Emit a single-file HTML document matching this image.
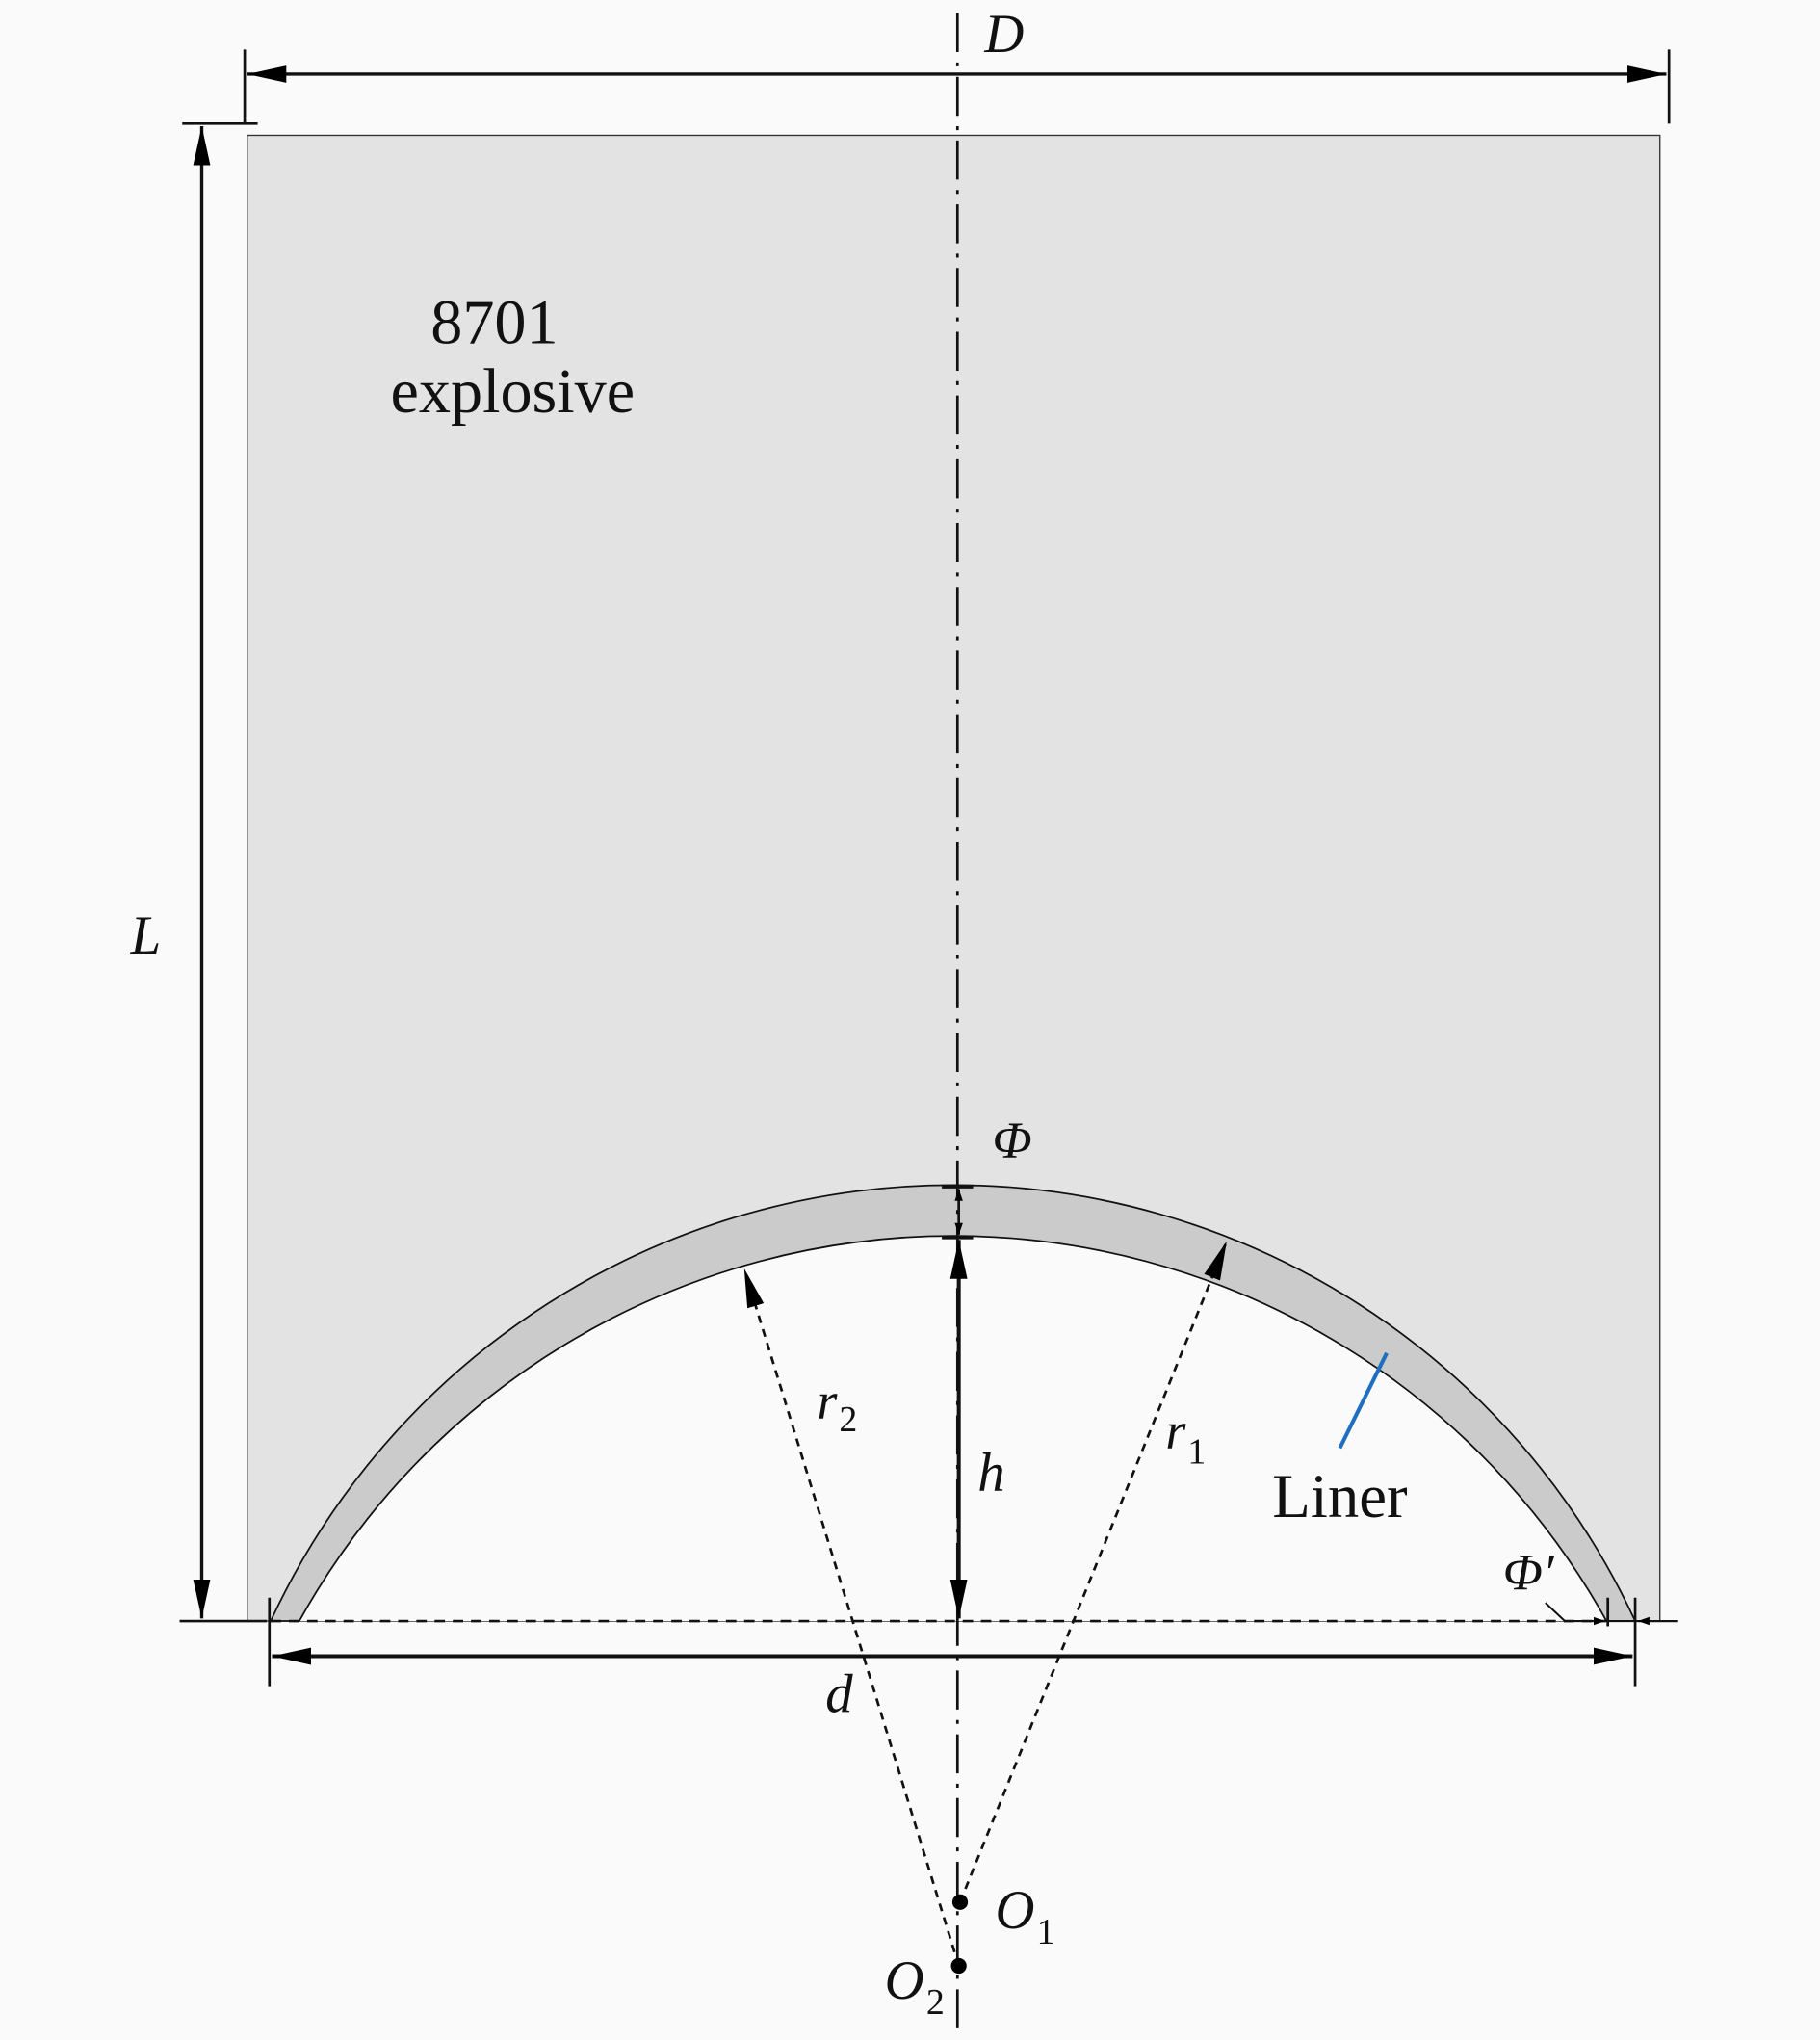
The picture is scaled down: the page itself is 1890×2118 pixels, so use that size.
<!DOCTYPE html>
<html><head><style>html,body{margin:0;padding:0;background:#fafafa}svg{display:block}
text{font-family:"Liberation Serif",serif;fill:#111}</style></head><body>
<svg width="1890" height="2118" viewBox="0 0 1399 1568" xmlns="http://www.w3.org/2000/svg">
<defs>
<marker id="a" viewBox="0 0 10 10" refX="10" refY="5" markerWidth="9" markerHeight="9" markerUnits="userSpaceOnUse" orient="auto-start-reverse"><path d="M0,1.5 L10,5 L0,8.5 z" fill="#000"/></marker>
<marker id="b" viewBox="0 0 10 10" refX="10" refY="5" markerWidth="30" markerHeight="30" markerUnits="userSpaceOnUse" orient="auto-start-reverse"><path d="M0,2.8 L10,5 L0,7.2 z" fill="#000"/></marker>
</defs>
<rect x="0" y="0" width="1399" height="1568" fill="#fafafa"/>
<rect x="190" y="104" width="1086" height="1142" fill="#e3e3e3" stroke="#333" stroke-width="1"/>
<path d="M230,1246 A574.5,574.5 0 0 1 1235,1246 Z" fill="#fafafa"/>
<path d="M208,1246 A578,578 0 0 1 1257,1246 L1235,1246 A574.5,574.5 0 0 0 230,1246 Z" fill="#cbcbcb" stroke="#111" stroke-width="1.3"/>
<line x1="736" y1="10" x2="736" y2="1560" stroke="#111" stroke-width="2" stroke-dasharray="30,8,3,8"/>
<line x1="188" y1="38" x2="188" y2="95" stroke="#111" stroke-width="2"/>
<line x1="1283" y1="38" x2="1283" y2="95" stroke="#111" stroke-width="2"/>
<line x1="190" y1="57" x2="1281" y2="57" stroke="#111" stroke-width="2.5" marker-start="url(#b)" marker-end="url(#b)"/>
<line x1="140" y1="95" x2="198" y2="95" stroke="#111" stroke-width="2"/>
<line x1="138" y1="1246" x2="205" y2="1246" stroke="#111" stroke-width="2"/>
<line x1="155" y1="97" x2="155" y2="1244" stroke="#111" stroke-width="2.5" marker-start="url(#b)" marker-end="url(#b)"/>
<line x1="208" y1="1246" x2="1235" y2="1246" stroke="#111" stroke-width="2" stroke-dasharray="8,6"/>
<line x1="1235" y1="1246" x2="1290" y2="1246" stroke="#111" stroke-width="1.5"/>
<line x1="207" y1="1228" x2="207" y2="1296" stroke="#111" stroke-width="2"/>
<line x1="1257" y1="1228" x2="1257" y2="1296" stroke="#111" stroke-width="2"/>
<line x1="209" y1="1273" x2="1255" y2="1273" stroke="#111" stroke-width="3" marker-start="url(#b)" marker-end="url(#b)"/>
<line x1="1236" y1="1228" x2="1236" y2="1250" stroke="#111" stroke-width="2"/>
<path d="M1188,1232 L1203,1246 L1234,1246" fill="none" stroke="#111" stroke-width="1.5" marker-end="url(#a)"/>
<line x1="1290" y1="1246" x2="1259" y2="1246" stroke="#111" stroke-width="1.5" marker-end="url(#a)"/>
<line x1="724" y1="912" x2="748" y2="912" stroke="#111" stroke-width="3"/>
<line x1="724" y1="951" x2="748" y2="951" stroke="#111" stroke-width="3"/>
<line x1="737" y1="932" x2="737" y2="914" stroke="#111" stroke-width="2" marker-end="url(#a)"/>
<line x1="737" y1="932" x2="737" y2="949" stroke="#111" stroke-width="2" marker-end="url(#a)"/>
<line x1="737" y1="953" x2="737" y2="1244" stroke="#111" stroke-width="3" marker-start="url(#b)" marker-end="url(#b)"/>
<line x1="737" y1="1511" x2="572" y2="975" stroke="#111" stroke-width="2" stroke-dasharray="6,5" marker-end="url(#b)"/>
<line x1="738" y1="1462" x2="943" y2="954" stroke="#111" stroke-width="2" stroke-dasharray="6,5" marker-end="url(#b)"/>
<circle cx="738" cy="1462" r="6" fill="#000"/>
<circle cx="737" cy="1511" r="6" fill="#000"/>
<line x1="1066" y1="1040" x2="1030" y2="1113" stroke="#1e6fc0" stroke-width="3"/>
<text x="380" y="264" font-size="49" text-anchor="middle">8701</text>
<text x="394" y="317" font-size="49" text-anchor="middle">explosive</text>
<text x="772" y="40" font-size="42" font-style="italic" text-anchor="middle">D</text>
<text x="112" y="733" font-size="42" font-style="italic" text-anchor="middle">L</text>
<text x="778" y="890" font-size="40" font-style="italic" text-anchor="middle">Φ</text>
<text x="628" y="1090" font-size="40" font-style="italic">r</text><text x="645" y="1100" font-size="28">2</text>
<text x="762" y="1146" font-size="42" font-style="italic" text-anchor="middle">h</text>
<text x="896" y="1113" font-size="40" font-style="italic">r</text><text x="913" y="1125" font-size="28">1</text>
<text x="1030" y="1166" font-size="48" text-anchor="middle">Liner</text>
<text x="1175" y="1222" font-size="40" font-style="italic" text-anchor="middle">Φ′</text>
<text x="645" y="1316" font-size="42" font-style="italic" text-anchor="middle">d</text>
<text x="765" y="1482" font-size="42" font-style="italic">O</text><text x="797" y="1494" font-size="28">1</text>
<text x="680" y="1536" font-size="42" font-style="italic">O</text><text x="712" y="1548" font-size="28">2</text>
</svg>
</body></html>
